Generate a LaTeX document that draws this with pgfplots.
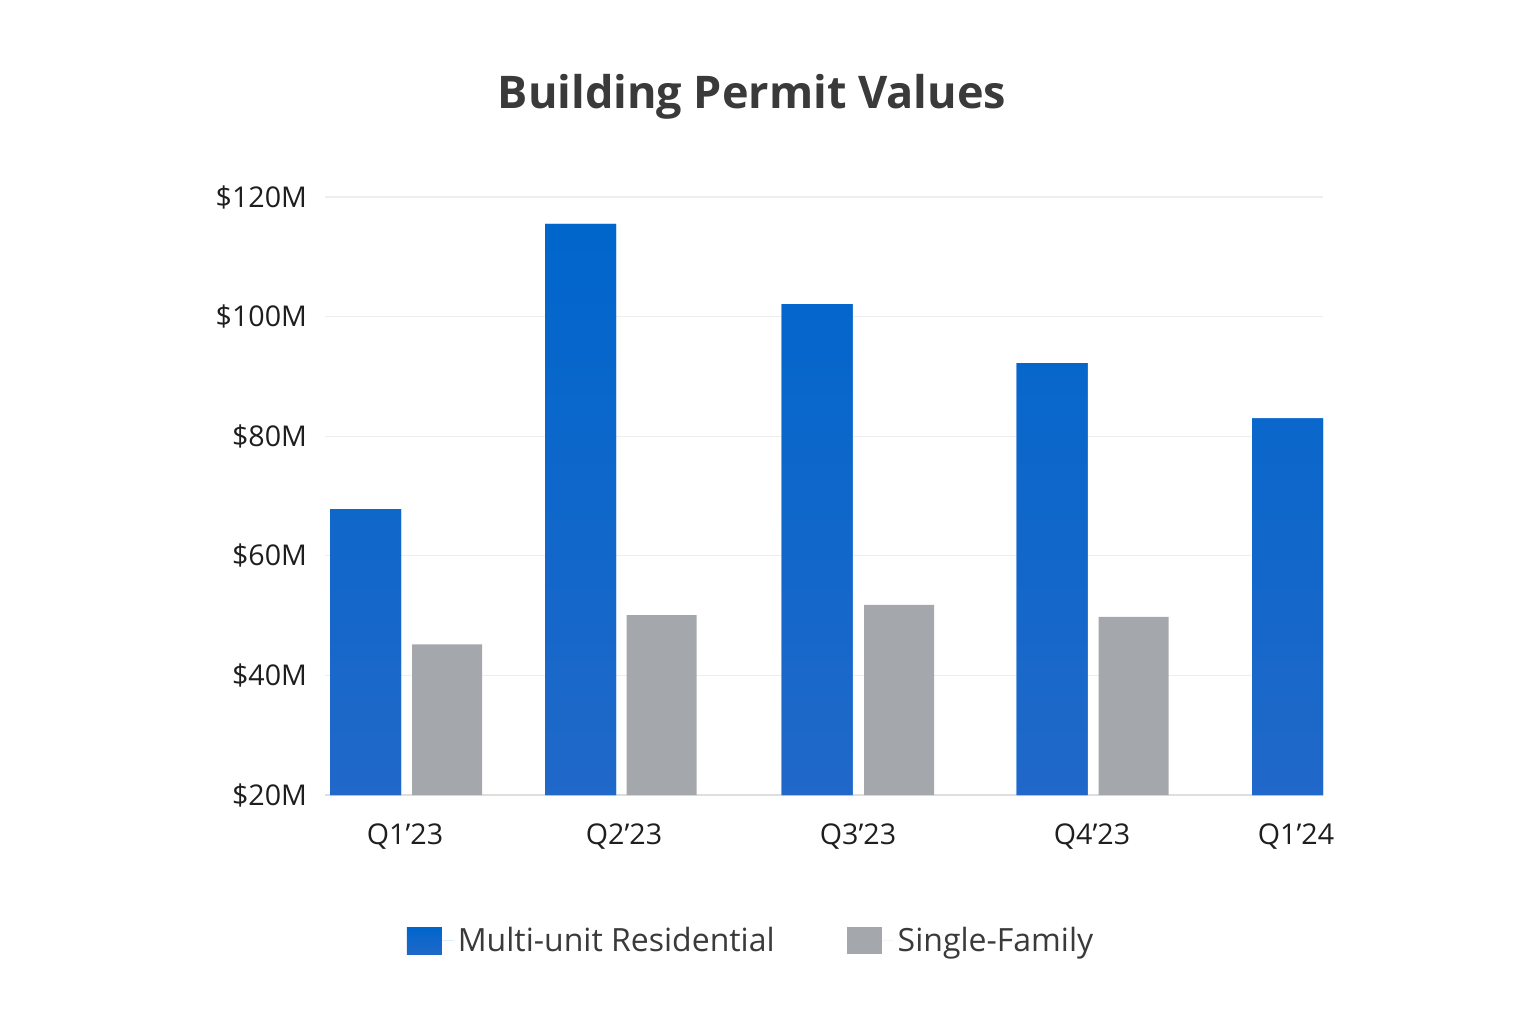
\documentclass[border=0pt]{standalone}
\usepackage{pgfplots}
\pgfplotsset{compat=1.18}
\usepackage{fontspec}
\setmainfont{Open Sans}

\definecolor{multitop}{HTML}{0066CC}
\definecolor{multibot}{HTML}{2068C9}
\definecolor{singlegray}{HTML}{A4A7AB}
\definecolor{gridgray}{HTML}{EEEEEE}
\definecolor{basegray}{HTML}{DEDEDE}
\definecolor{titlegray}{HTML}{3A3A3A}
\definecolor{labelgray}{HTML}{1E1E1E}

\begin{document}
\begin{tikzpicture}
  \path[use as bounding box] (0,0) rectangle (768pt,512pt);
  \begin{axis}[
      at={(162.5pt,114.5pt)}, anchor=south west,
      scale only axis, width=499pt, height=299pt,
      xmin=325, xmax=1323, ymin=20, ymax=120,
      axis x line*=bottom, axis y line*=left,
      x axis line style={draw=basegray, line width=0.8pt},
      y axis line style={draw=none},
      tick style={draw=none},
      ymajorgrids, grid style={draw=gridgray, line width=0.6pt},
      ytick={20,40,60,80,100,120},
      yticklabels={\$20M,\$40M,\$60M,\$80M,\$100M,\$120M},
      xtick={405,624,858,1092,1296},
      xticklabels={Q1’23,Q2’23,Q3’23,Q4’23,Q1’24},
      ticklabel style={font=\fontsize{14.3}{14.3}\selectfont, text=labelgray},
      yticklabel style={xshift=-5.5pt},
      xticklabel style={yshift=-11pt},
      title={Building Permit Values},
      title style={at={(0.4279,1.148)}, anchor=center,
        font=\fontsize{22.5}{22.5}\bfseries\selectfont, text=titlegray},
      legend style={at={(0.4279,-0.244)}, anchor=center, draw=none, fill=none,
        legend columns=2, font=\fontsize{16}{16}\selectfont, text=titlegray,
        /tikz/every even column/.append style={column sep=34pt}},
      legend image code/.code={\path (0pt,0pt) -- (23.5pt,0pt);
        \fill[#1] (0pt,-6.75pt) rectangle (17.5pt,6.75pt);},
    ]
    \addplot[ybar, bar shift=0pt, bar width=71, draw=none,
      top color=multitop, bottom color=multibot, fill=multitop]
      coordinates {(365.5,67.8) (580.5,115.5) (817,102.1) (1052,92.2) (1287.5,83.0)};
    \addlegendentry{Multi-unit Residential}
    \addplot[ybar, bar shift=0pt, bar width=70, draw=none, fill=singlegray]
      coordinates {(447,45.2) (661.5,50.1) (899,51.8) (1133.5,49.8)};
    \addlegendentry{Single-Family}
  \end{axis}
\end{tikzpicture}
\end{document}
